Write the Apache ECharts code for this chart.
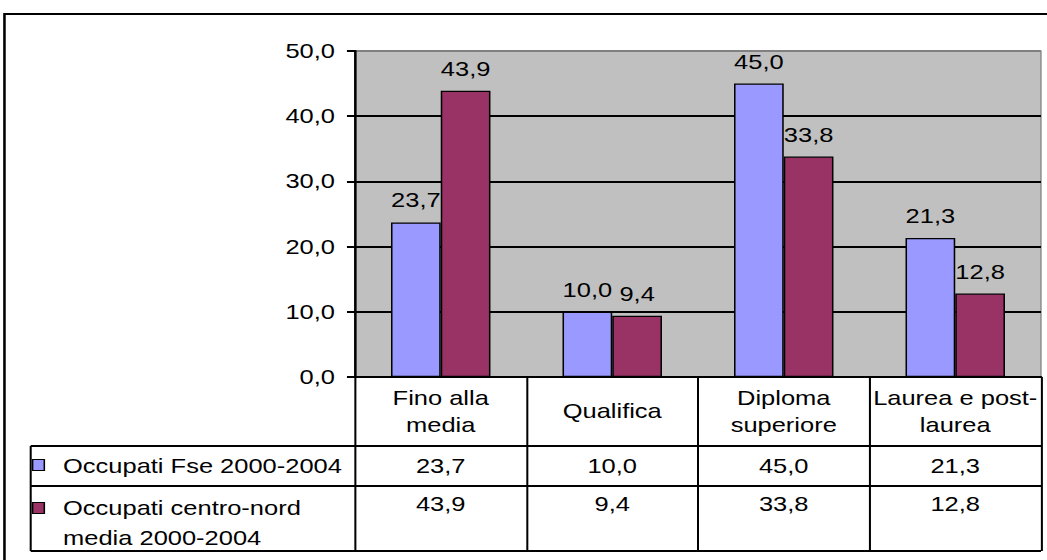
<!DOCTYPE html>
<html>
<head>
<meta charset="utf-8">
<script src="https://cdn.jsdelivr.net/npm/echarts@6/dist/echarts.min.js"></script>
<style>
  html, body { margin: 0; padding: 0; background: #fff; overflow: hidden; }
  #wrap { width: 1047px; height: 560px; overflow: hidden; }
  /* the chart is laid out on a narrower canvas and stretched horizontally */
  #chart { width: 822px; height: 560px; transform: scaleX(1.2737); transform-origin: 0 0; }
</style>
</head>
<body>
<div id="wrap"><div id="chart"></div></div>
<script>
// Education level of the employed (percent)
const categories = ['Fino alla\nmedia', 'Qualifica', 'Diploma\nsuperiore', 'Laurea e post-\nlaurea'];
const seriesLabels = ['Occupati Fse 2000-2004', 'Occupati centro-nord\nmedia 2000-2004'];
const fseValues = [23.7, 10.0, 45.0, 21.3];
const centroNordValues = [43.9, 9.4, 33.8, 12.8];
const yMin = 0, yMax = 50, yStep = 10;

const seriesColors = ['#9999FF', '#993366'];
const FONT = 'Liberation Sans, Arial, Helvetica, sans-serif';
const fmt = v => Number(v).toFixed(1).replace('.', ',');

// layout (in the unstretched coordinate space)
const W = 822;
const plotLeft = 278.7, plotRight = 817.3, plotTop = 51, plotBottom = 377;
const tableLeft = 24.1, rowLines = [446, 486, 551];

const chart = echarts.init(document.getElementById('chart'), null, { renderer: 'svg' });

function valueAxis(values, margin) {
  return {
    type: 'category',
    data: values.map(fmt),
    position: 'bottom',
    axisLine: { show: false },
    axisTick: { show: false },
    splitLine: { show: false },
    axisLabel: { margin: margin, verticalAlign: 'middle', fontFamily: FONT, fontSize: 20, color: '#000', interval: 0 }
  };
}

const graphic = [
  // outer frame
  { type: 'rect', shape: { x: 3.5, y: 14, width: W + 20, height: 600 },
    style: { fill: 'none', stroke: '#000', lineWidth: 2 }, silent: true, z: 10 },
  // data table rules
  ...rowLines.map(y => ({ type: 'line', shape: { x1: tableLeft, y1: y, x2: plotRight, y2: y },
    style: { stroke: '#000', lineWidth: 2 }, silent: true, z: 10 })),
  { type: 'line', shape: { x1: tableLeft, y1: rowLines[0], x2: tableLeft, y2: rowLines[2] },
    style: { stroke: '#000', lineWidth: 1.6 }, silent: true, z: 10 },
  // legend keys
  { type: 'rect', shape: { x: 25.6, y: 459.5, width: 9.2, height: 11 },
    style: { fill: seriesColors[0], stroke: '#000', lineWidth: 1.2 }, silent: true, z: 10 },
  { type: 'rect', shape: { x: 25.6, y: 502.5, width: 9.2, height: 11 },
    style: { fill: seriesColors[1], stroke: '#000', lineWidth: 1.2 }, silent: true, z: 10 },
  { type: 'text', x: 49.5, y: 466, silent: true, z: 10,
    style: { text: seriesLabels[0], font: '20px ' + FONT, fill: '#000', verticalAlign: 'middle' } },
  { type: 'text', x: 49.5, y: 493, silent: true, z: 10,
    style: { text: seriesLabels[1], font: '20px ' + FONT, fill: '#000', verticalAlign: 'top', lineHeight: 30 } }
];

chart.setOption({
  animation: false,
  backgroundColor: '#fff',
  grid: {
    left: plotLeft, right: W - plotRight, top: plotTop, bottom: 560 - plotBottom,
    show: true, backgroundColor: '#C0C0C0', borderColor: '#808080', borderWidth: 1
  },
  xAxis: [
    {
      type: 'category',
      data: categories,
      position: 'bottom',
      axisLine: { show: true, lineStyle: { color: '#000', width: 2 } },
      axisTick: { show: true, inside: false, length: rowLines[2] - plotBottom, lineStyle: { color: '#000', width: 1.6 } },
      axisLabel: { margin: 34.5, verticalAlign: 'middle', lineHeight: 27, fontFamily: FONT, fontSize: 20, color: '#000', interval: 0 },
      splitLine: { show: false }
    },
    valueAxis(fseValues, 89),
    valueAxis(centroNordValues, 127)
  ],
  yAxis: {
    type: 'value',
    min: yMin, max: yMax, interval: yStep,
    axisLine: { show: true, lineStyle: { color: '#000', width: 2 } },
    axisTick: { show: true, inside: false, length: 6.3, lineStyle: { color: '#000', width: 2 } },
    axisLabel: { margin: 15.7, fontFamily: FONT, fontSize: 20, color: '#000', formatter: v => fmt(v) },
    splitLine: { show: true, lineStyle: { color: ['#000', '#000', '#000', '#000', '#000', '#808080'], width: 2 } }
  },
  series: [fseValues, centroNordValues].map((vals, i) => ({
    name: seriesLabels[i].replace('\n', ' '),
    type: 'bar',
    xAxisIndex: 0,
    data: vals,
    barGap: '0%',
    barCategoryGap: '42%',
    itemStyle: { color: seriesColors[i], borderColor: '#000', borderWidth: 1.2 },
    label: { show: true, position: 'top', distance: 12, fontFamily: FONT, fontSize: 20, color: '#000', formatter: p => fmt(p.value) }
  })),
  graphic: graphic
});
</script>
</body>
</html>
